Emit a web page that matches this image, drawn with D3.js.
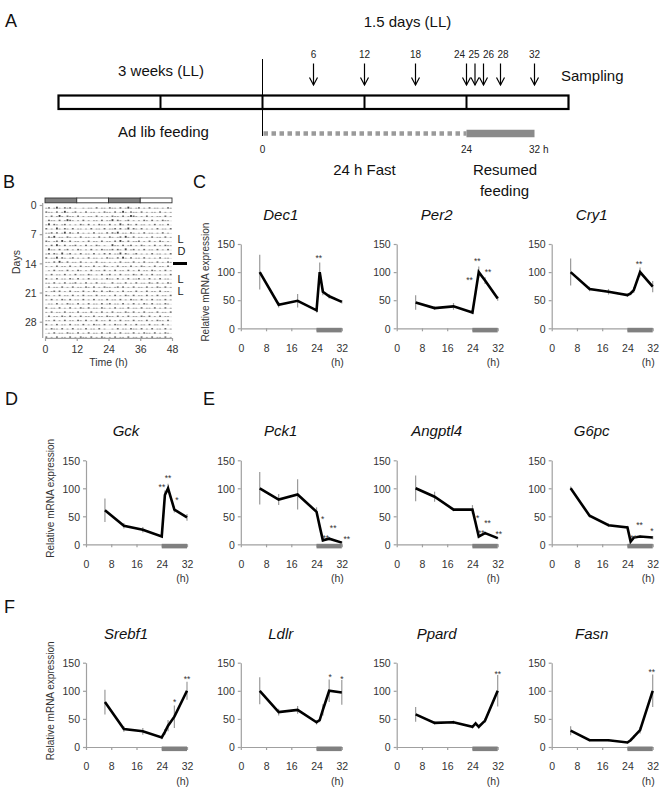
<!DOCTYPE html>
<html><head><meta charset="utf-8">
<script src="https://cdn.jsdelivr.net/npm/d3@7"></script>
<style>
body{margin:0;background:#fff}
svg{display:block}
text{font-family:"Liberation Sans",Arial,Helvetica,sans-serif}
</style>
</head><body>
<svg id="fig" width="661" height="788"></svg>
<script>
// ---------------- DATA ----------------
const sampleTimes = [6, 12, 18, 24, 25, 26, 28, 32];
const xTickValues = [0, 8, 16, 24, 32];
const yTickValues = [0, 50, 100, 150];
const refeedWindow = [24, 32];

const dec1    = [100, 42, 49, 32, 100, 65, 57, 47];
const dec1Err = [31, 5, 12, 4, 17, 6, 4, 3];
const dec1Sig = ['', '', '', '', '**', '', '', ''];

const per2    = [46, 36, 39, 28, 64, 100, 85, 53];
const per2Err = [13, 3, 6, 3, 4, 10, 6, 4];
const per2Sig = ['', '', '', '', '**', '**', '**', ''];

const cry1    = [100, 70, 65, 59, 62, 68, 100, 74];
const cry1Err = [24, 4, 5, 3, 3, 5, 8, 10];
const cry1Sig = ['', '', '', '', '', '', '**', ''];

const gck    = [61, 33, 26, 14, 88, 100, 62, 48];
const gckErr = [21, 5, 5, 2, 8, 8, 5, 6];
const gckSig = ['', '', '', '', '**', '**', '*', ''];

const pck1    = [100, 80, 89, 58, 32, 7, 10, 3];
const pck1Err = [29, 10, 27, 8, 3, 3, 3, 2];
const pck1Sig = ['', '', '', '', '*', '**', '**', '**'];

const angptl4    = [100, 85, 62, 62, 38, 14, 20, 11];
const angptl4Err = [23, 9, 3, 8, 3, 3, 3, 2];
const angptl4Sig = ['', '', '', '', '*', '**', '**', '**'];

const g6pc    = [100, 51, 34, 30, 5, 12, 14, 12];
const g6pcErr = [3, 3, 3, 3, 2, 2, 2, 3];
const g6pcSig = ['', '', '', '', '**', '', '**', '*'];

const srebf1    = [80, 32, 28, 17, 27, 38, 54, 100];
const srebf1Err = [22, 5, 6, 3, 5, 10, 20, 16];
const srebf1Sig = ['', '', '', '', '', '', '*', '**'];

const ldlr    = [100, 62, 66, 44, 48, 66, 100, 97];
const ldlrErr = [24, 6, 7, 4, 4, 10, 20, 22];
const ldlrSig = ['', '', '', '', '', '', '*', '*'];

const ppard    = [58, 43, 44, 36, 42, 36, 47, 100];
const ppardErr = [13, 3, 3, 3, 3, 3, 4, 28];
const ppardSig = ['', '', '', '', '', '', '', '**'];

const fasn    = [29, 12, 12, 8, 12, 18, 30, 100];
const fasnErr = [8, 2, 2, 2, 2, 3, 6, 29];
const fasnSig = ['', '', '', '', '', '', '', '**'];

// Panel A (protocol timeline)
const timelineBounds = [-24, -12, 0, 12, 24, 36];
const samplingArrows = [6, 12, 18, 24, 25, 26, 28, 32];
const fastWindow = [0, 24];

// Panel B (double-plotted actogram), hourly activity level per day (0-3)
const activityDays = [
 "120131021201001011020110","211020131012010201101021","102013102110201011020101",
 "021102013210102010110201","130210120101021020102110","201031021020110102011020",
 "112020130210201010201102","021301102101020110102010","210120310201101020110201",
 "102031020112010201021010","031102012010210102010211","120210301201020110201020",
 "201130210120101020110102","110203102011020101020110","101020110201020110201021",
 "010201102010210102011020","102011020102011021010201","201020110210201020110102",
 "110201020112010201020110","020110201020110210201021","101202010201102010210201",
 "210102011020102011020110","102010210201102010201102","011020102110201020110201",
 "201102010201021020110210","102011020110201102010201","020110210201020110201102",
 "110201020110210201020110","201020110201102010211020","102110201020110201102010",
 "010201102110201020110201","201020110201021102010210","102011020110201020110201"
];
const dayTicks = [0, 7, 14, 21, 28];
const hourTicks = [0, 12, 24, 36, 48];
const lightPhases = ['dark', 'light', 'dark', 'light'];
const conditionLabels = ['L', 'D', 'L', 'L'];

// ---------------- LAYOUT ----------------
const svg = d3.select('#fig');
const FONT_AX = 10.5;
const TXT = '#333';
const AXC = '#a0a0a0';

const colX = [86, 240.8, 396.7, 551.7];
const rowC = {yTop: 244, yBot: 328.3};
const rowDE = {yTop: 460.3, yBot: 544.3};
const rowF = {yTop: 662.7, yBot: 747};
const plotW = 101;

// star label offsets (px, from the data point) keyed by sample time
const sigOffsets = {
  Dec1: {25: [-1, -16]},
  Per2: {25: [-6, -14], 26: [-1.5, -13], 28: [3, -11]},
  Cry1: {28: [-1, -10.6]},
  Gck: {25: [-3, -10], 26: [0, -12.5], 28: [2.5, -11.3]},
  Pck1: {25: [3, -9], 26: [3, -4], 28: [4, -12.5], 32: [5, -6]},
  Angptl4: {25: [2, -7], 26: [2.5, -5], 28: [2.5, -12], 32: [1, -6.4]},
  G6pc: {25: [3, -6], 28: [-0.5, -13], 32: [-0.7, -8.3]},
  Srebf1: {28: [0.3, -16.8], 32: [0, -13.7]},
  Ldlr: {28: [1, -16], 32: [0, -15.4]},
  Ppard: {32: [0, -19.3]},
  Fasn: {32: [-1, -21]}
};

const panels = [
  {name: 'Dec1', v: dec1, e: dec1Err, s: dec1Sig, x0: colX[1], row: rowC, ylab: true},
  {name: 'Per2', v: per2, e: per2Err, s: per2Sig, x0: colX[2], row: rowC},
  {name: 'Cry1', v: cry1, e: cry1Err, s: cry1Sig, x0: colX[3], row: rowC},
  {name: 'Gck', v: gck, e: gckErr, s: gckSig, x0: colX[0], row: rowDE, ylab: true},
  {name: 'Pck1', v: pck1, e: pck1Err, s: pck1Sig, x0: colX[1], row: rowDE},
  {name: 'Angptl4', v: angptl4, e: angptl4Err, s: angptl4Sig, x0: colX[2], row: rowDE},
  {name: 'G6pc', v: g6pc, e: g6pcErr, s: g6pcSig, x0: colX[3], row: rowDE},
  {name: 'Srebf1', v: srebf1, e: srebf1Err, s: srebf1Sig, x0: colX[0], row: rowF, ylab: true},
  {name: 'Ldlr', v: ldlr, e: ldlrErr, s: ldlrSig, x0: colX[1], row: rowF},
  {name: 'Ppard', v: ppard, e: ppardErr, s: ppardSig, x0: colX[2], row: rowF},
  {name: 'Fasn', v: fasn, e: fasnErr, s: fasnSig, x0: colX[3], row: rowF}
];

function styleAxis(g) {
  g.select('.domain').attr('stroke', AXC).attr('stroke-width', 1.2);
  g.selectAll('.tick line').attr('stroke', AXC).attr('stroke-width', 1.2);
  g.selectAll('.tick text').attr('fill', TXT).style('font-size', FONT_AX + 'px')
    .style('font-family', '"Liberation Sans",Arial,sans-serif');
}

function drawPanel(p) {
  const g = svg.append('g');
  const x = d3.scaleLinear().domain([0, 32]).range([p.x0, p.x0 + plotW]);
  const y = d3.scaleLinear().domain([0, 150]).range([p.row.yBot, p.row.yTop]);

  const ya = g.append('g').attr('transform', `translate(${p.x0},0)`)
    .call(d3.axisLeft(y).tickValues(yTickValues).tickSize(3).tickSizeOuter(0).tickPadding(3));
  styleAxis(ya);
  ya.selectAll('.tick text').attr('dy', '0.36em');
  const xa = g.append('g').attr('transform', `translate(0,${p.row.yBot})`)
    .call(d3.axisBottom(x).tickValues(xTickValues).tickSize(3).tickSizeOuter(0).tickPadding(13));
  styleAxis(xa);

  // refeeding bar
  g.append('rect').attr('x', x(refeedWindow[0])).attr('width', x(refeedWindow[1]) - x(refeedWindow[0]))
    .attr('y', p.row.yBot - 0.5).attr('height', 4.6).attr('fill', '#808080');

  g.append('text').attr('x', x(32) + 2).attr('y', p.row.yBot + 38).attr('text-anchor', 'end')
    .attr('fill', TXT).style('font-size', FONT_AX + 'px').text('(h)');

  // title
  g.append('text').attr('x', p.x0 + 40).attr('y', p.row.yTop - 24).attr('text-anchor', 'middle')
    .attr('font-style', 'italic').attr('fill', '#111').style('font-size', '15px').text(p.name);

  if (p.ylab) {
    g.append('text').attr('transform', `translate(${p.x0 - 32},${(p.row.yTop + p.row.yBot) / 2 - 4}) rotate(-90)`)
      .attr('text-anchor', 'middle').attr('fill', TXT).style('font-size', '10px')
      .text('Relative mRNA expression');
  }

  // error bars
  g.selectAll('.err').data(sampleTimes).join('line')
    .attr('x1', (t) => x(t)).attr('x2', (t) => x(t))
    .attr('y1', (t, i) => y(p.v[i] - p.e[i])).attr('y2', (t, i) => y(p.v[i] + p.e[i]))
    .attr('stroke', '#9a9a9a').attr('stroke-width', 1.2);

  // line
  const line = d3.line().x((d) => x(d[0])).y((d) => y(d[1]));
  g.append('path').datum(sampleTimes.map((t, i) => [t, p.v[i]])).attr('d', line)
    .attr('fill', 'none').attr('stroke', '#000').attr('stroke-width', 2.6)
    .attr('stroke-linejoin', 'miter').attr('stroke-miterlimit', 6);

  // significance
  const offs = sigOffsets[p.name] || {};
  sampleTimes.forEach((t, i) => {
    if (!p.s[i]) return;
    const o = offs[t] || [0, -10];
    g.append('text').attr('x', x(t) + o[0]).attr('y', y(p.v[i]) + o[1] + 5)
      .attr('text-anchor', 'middle').attr('fill', '#333').style('font-size', '8.5px')
      .text(p.s[i]);
  });
}
panels.forEach(drawPanel);

// panel letters
const letters = [['A', 5, 27], ['B', 3, 188], ['C', 193, 188], ['D', 5, 405], ['E', 203, 405], ['F', 4, 613]];
svg.selectAll('.plabel').data(letters).join('text')
  .attr('x', (d) => d[1]).attr('y', (d) => d[2]).attr('fill', '#111')
  .style('font-size', '18px').text((d) => d[0]);

// ---------------- PANEL A ----------------
(function () {
  const gA = svg.append('g');
  const xA = d3.scaleLinear().domain([-24, 36]).range([58.5, 568.5]);
  const t15 = (s, x, y, anchor) => gA.append('text').attr('x', x).attr('y', y)
    .attr('text-anchor', anchor || 'middle').attr('fill', '#111').style('font-size', '15px').text(s);

  t15('1.5 days (LL)', 407.5, 27);
  t15('3 weeks (LL)', 161, 76);
  t15('Sampling', 561, 81, 'start');
  t15('Ad lib feeding', 163.5, 136.5);
  t15('24 h Fast', 364.5, 175);
  t15('Resumed', 505, 175);
  t15('feeding', 504.5, 196);

  // vertical start line
  gA.append('line').attr('x1', xA(0)).attr('x2', xA(0)).attr('y1', 59).attr('y2', 136)
    .attr('stroke', '#000').attr('stroke-width', 1);

  // fasting (dashed) and refeeding (solid)
  gA.append('line').attr('x1', xA(fastWindow[0]) + 1).attr('x2', xA(fastWindow[1]))
    .attr('y1', 133.5).attr('y2', 133.5).attr('stroke', '#9a9a9a').attr('stroke-width', 4.5)
    .attr('stroke-dasharray', '4.5,3.5');
  gA.append('line').attr('x1', xA(refeedWindow[0])).attr('x2', xA(refeedWindow[1]))
    .attr('y1', 133.5).attr('y2', 133.5).attr('stroke', '#8a8a8a').attr('stroke-width', 7.5);

  // timeline box
  gA.append('rect').attr('x', xA(timelineBounds[0])).attr('y', 95.5)
    .attr('width', xA(timelineBounds[timelineBounds.length - 1]) - xA(timelineBounds[0])).attr('height', 13.5)
    .attr('fill', '#fff').attr('stroke', '#000').attr('stroke-width', 2.2);
  gA.selectAll('.div').data(timelineBounds.slice(1, -1)).join('line')
    .attr('x1', (d) => xA(d)).attr('x2', (d) => xA(d)).attr('y1', 95.5).attr('y2', 109)
    .attr('stroke', '#000').attr('stroke-width', 2);

  // time labels under timeline
  const small = (s, x, y, anchor) => gA.append('text').attr('x', x).attr('y', y)
    .attr('text-anchor', anchor || 'middle').attr('fill', '#222').style('font-size', '10px').text(s);
  small('0', xA(0), 152.5);
  small('24', xA(24), 152.5);
  small('32 h', xA(32) - 5.5, 152.5, 'start');

  // sampling arrows
  samplingArrows.forEach((t) => {
    const xx = xA(t);
    gA.append('line').attr('x1', xx).attr('x2', xx).attr('y1', 63.5).attr('y2', 85)
      .attr('stroke', '#000').attr('stroke-width', 1.2);
    gA.append('path').attr('d', `M${xx - 4},77.5 L${xx},85 L${xx + 4},77.5`)
      .attr('fill', 'none').attr('stroke', '#000').attr('stroke-width', 1.2);
  });
  // spread labels to avoid overlap
  const lx = samplingArrows.map((t) => xA(t));
  for (let it = 0; it < 80; it++) {
    for (let i = 1; i < lx.length; i++) {
      const d = lx[i] - lx[i - 1];
      if (d < 14.5) { const s = (14.5 - d) / 2; lx[i - 1] -= s; lx[i] += s; }
    }
  }
  samplingArrows.forEach((t, i) => small(String(t), lx[i], 58));
})();

// ---------------- PANEL B ----------------
(function () {
  const gB = svg.append('g');
  const xB = d3.scaleLinear().domain([0, 48]).range([45, 172]);
  const yB = d3.scaleLinear().domain([0, 28]).range([205, 321.7]);
  const nRows = activityDays.length - 1;
  const markColor = ['', '#9a9a9a', '#6a6a6a', '#444'];
  const markH = [0, 0.7, 1.2, 1.7];

  // light/dark bar
  lightPhases.forEach((ph, i) => {
    gB.append('rect').attr('x', xB(i * 12)).attr('y', 198).attr('width', xB(12) - xB(0)).attr('height', 4.8)
      .attr('fill', ph === 'dark' ? '#808080' : '#fff').attr('stroke', '#333').attr('stroke-width', 0.9);
  });

  // rows
  for (let d = 0; d < nRows; d++) {
    const base = yB(d) + 3.4;
    gB.append('line').attr('x1', xB(0)).attr('x2', xB(48)).attr('y1', base).attr('y2', base)
      .attr('stroke', '#dcdcdc').attr('stroke-width', 0.7);
    for (let h = 0; h < 48; h++) {
      const dayStr = activityDays[d + Math.floor(h / 24)];
      const lv = +dayStr[h % 24];
      if (lv > 0) {
        gB.append('rect').attr('x', xB(h) + 0.4).attr('y', base - markH[lv])
          .attr('width', (xB(1) - xB(0)) * 0.7).attr('height', markH[lv] + 0.2).attr('fill', markColor[lv]);
      }
    }
  }

  // axes
  const ya = gB.append('g').attr('transform', 'translate(42.7,0)')
    .call(d3.axisLeft(yB).tickValues(dayTicks).tickSize(3).tickSizeOuter(0).tickPadding(3));
  ya.select('.domain').attr('d', 'M0,203V338');
  styleAxis(ya);
  ya.selectAll('.tick text').attr('dy', '0.36em');
  const xa = gB.append('g').attr('transform', 'translate(0,338)')
    .call(d3.axisBottom(xB).tickValues(hourTicks).tickSize(3).tickSizeOuter(0).tickPadding(5));
  styleAxis(xa);

  gB.append('text').attr('x', 108.5).attr('y', 366).attr('text-anchor', 'middle').attr('fill', TXT)
    .style('font-size', FONT_AX + 'px').text('Time (h)');
  gB.append('text').attr('transform', 'translate(20,262) rotate(-90)').attr('text-anchor', 'middle')
    .attr('fill', TXT).style('font-size', FONT_AX + 'px').text('Days');

  const condY = [242.7, 255, 282.7, 295];
  conditionLabels.forEach((c, i) => {
    gB.append('text').attr('x', 177.5).attr('y', condY[i]).attr('fill', '#222')
      .style('font-size', '11px').text(c);
  });
  gB.append('rect').attr('x', 173).attr('y', 262).attr('width', 14).attr('height', 3).attr('fill', '#000');
})();
</script>
</body></html>
